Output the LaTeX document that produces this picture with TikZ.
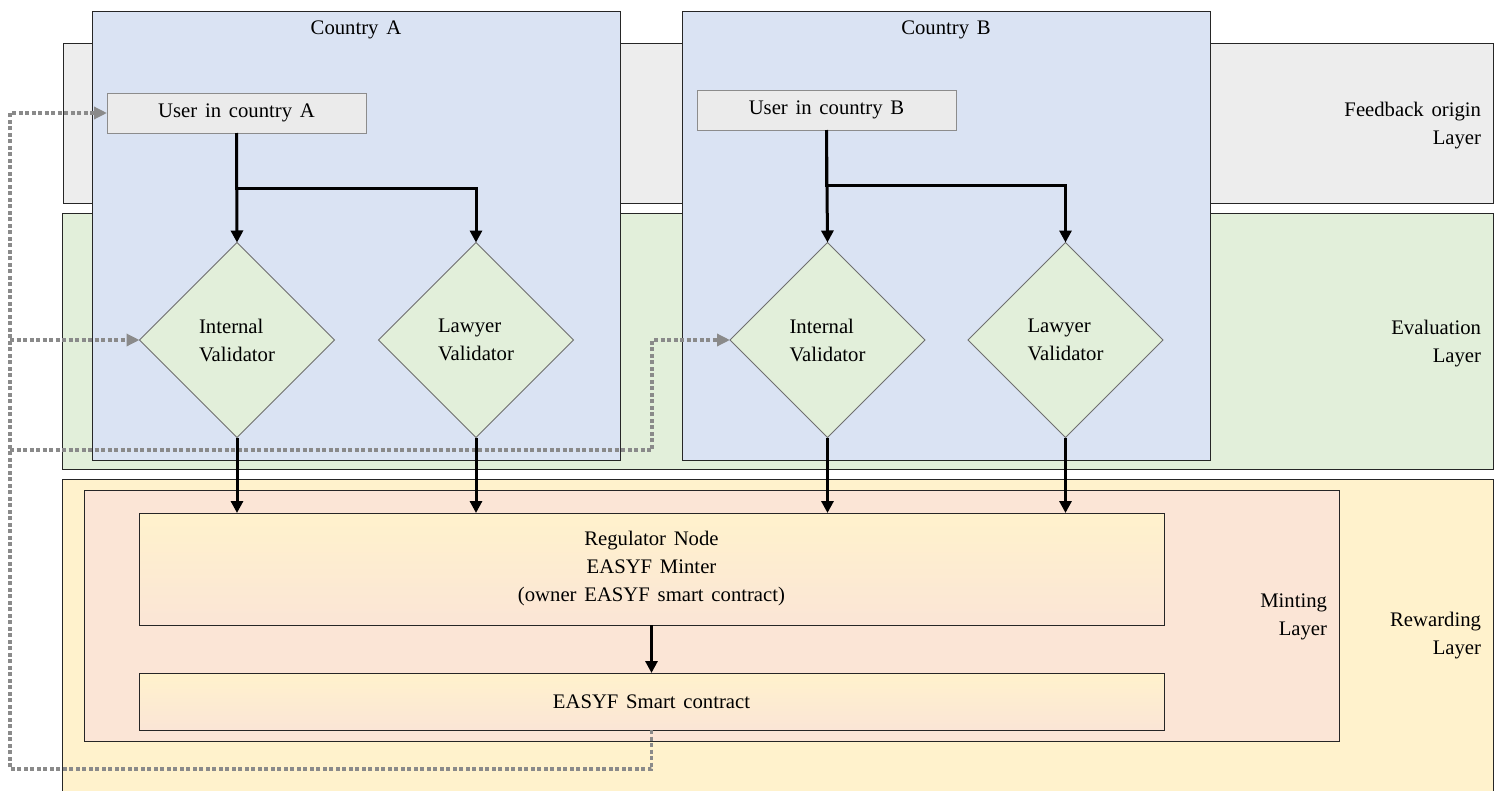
\documentclass[tikz,border=0pt]{standalone}
\usepackage{fontspec}
\setmainfont{Liberation Serif}[WordSpace={1.5}]
\usetikzlibrary{shapes.geometric,arrows.meta}

\definecolor{countryfill}{HTML}{DAE3F3}
\definecolor{feedfill}{HTML}{EDEDED}
\definecolor{evalfill}{HTML}{E2EFDA}
\definecolor{rewardfill}{HTML}{FFF2CC}
\definecolor{mintfill}{HTML}{FBE5D6}
\definecolor{userfill}{HTML}{EBEBEB}
\definecolor{dotgray}{HTML}{8A8A8A}
\definecolor{edgegray}{HTML}{6F6F6F}
\definecolor{boxedge}{HTML}{262626}

\begin{document}
\begin{tikzpicture}[x=1pt,y=-1pt,
  font=\rmfamily\fontsize{20.7}{28}\selectfont,
  region/.style={draw=boxedge, line width=1pt, rectangle, inner sep=0pt,
    outer sep=0pt, anchor=north west, align=center},
  userbox/.style={draw=edgegray!80, line width=1pt, fill=userfill, rectangle,
    inner sep=0pt, outer sep=0pt, anchor=north west},
  validator/.style={diamond, aspect=1, draw=edgegray, line width=0.9pt,
    fill=evalfill, minimum width=195pt, minimum height=195pt,
    inner sep=0pt, outer sep=0pt, align=left},
  label/.style={inner sep=0pt, outer sep=0pt},
  layerlabel/.style={label, anchor=east, align=right},
  flow/.style={draw=black, line width=3pt,
    -{Triangle[length=12pt,width=12pt]}},
  feedback/.style={draw=dotgray, line width=3.5pt, dash pattern=on 4pt off 2.5pt,
    -{Triangle[length=13pt,width=12pt,fill=dotgray]}}
]
\useasboundingbox (0,0) rectangle (1499,790);
\clip (0,0) rectangle (1499,790);

% horizontal layers
\node[region, fill=feedfill, minimum width=1430pt, minimum height=160pt] (feed) at (63,43) {};
\node[region, fill=evalfill, minimum width=1431pt, minimum height=256pt] (eval) at (62,213) {};
\node[region, fill=rewardfill, minimum width=1431pt, minimum height=340pt] (reward) at (62,479) {};

% countries
\node[region, fill=countryfill, minimum width=528pt, minimum height=449pt] (ctyA) at (92,11) {};
\node[region, fill=countryfill, minimum width=528pt, minimum height=449pt] (ctyB) at (682,11) {};
\node[label] (tA) at (356,30) {Country A};
\node[label] (tB) at (946,30) {Country B};

% minting layer and its contents
\node[region, fill=mintfill, minimum width=1255pt, minimum height=251pt] (mint) at (84,490) {};
\node[region, top color=rewardfill, bottom color=mintfill, minimum width=1025pt,
  minimum height=112pt] (reg) at (139,513)
  {Regulator Node\\EASYF Minter\\(owner EASYF smart contract)};
\node[region, top color=rewardfill, bottom color=mintfill, minimum width=1025pt,
  minimum height=57pt] (sc) at (139,673) {EASYF Smart contract};

% layer names
\node[layerlabel] (lFeed) at (1481,126) {Feedback origin\\Layer};
\node[layerlabel] (lEval) at (1481,344) {Evaluation\\Layer};
\node[layerlabel] (lMint) at (1327,617) {Minting\\Layer};
\node[layerlabel] (lRew) at (1481,636) {Rewarding\\Layer};

% users
\node[userbox, minimum width=259pt, minimum height=40pt] (uA) at (107,93) {User in country A};
\node[userbox, minimum width=259pt, minimum height=40pt] (uB) at (697,90) {User in country B};

% validators
\node[validator] (dA1) at (237,340) {Internal\\Validator};
\node[validator] (dA2) at (476,340) {Lawyer\\Validator};
\node[validator] (dB1) at (827.5,340) {Internal\\Validator};
\node[validator] (dB2) at (1065.5,340) {Lawyer\\Validator};

% feedback loop
\coordinate (fbTop) at (10,113);
\coordinate (fbBot) at (10,769);
\coordinate (fbMid) at (10,450);
\coordinate (fbBend) at (652,450);
\draw[feedback] (sc.south) |- (fbBot) -- (fbTop) -- (uA.west);
\draw[feedback] (fbTop |- dA1.west) -- (dA1.west);
\draw[feedback] (fbMid) -- (fbBend) |- (dB1.west);

% main flow
\path (uA.south) ++(0,55) coordinate (brA);
\path (uB.south) ++(0,55) coordinate (brB);
\draw[flow] (uA.south) -- (dA1.north);
\draw[flow] (uA.south) -- (brA) -| (dA2.north);
\draw[flow] (uB.south) -- (dB1.north);
\draw[flow] (uB.south) -- (brB) -| (dB2.north);

\draw[flow] (dA1.south) -- (dA1.south |- reg.north);
\draw[flow] (dA2.south) -- (dA2.south |- reg.north);
\draw[flow] (dB1.south) -- (dB1.south |- reg.north);
\draw[flow] (dB2.south) -- (dB2.south |- reg.north);
\draw[flow] (reg.south) -- (sc.north);
\end{tikzpicture}
\end{document}
